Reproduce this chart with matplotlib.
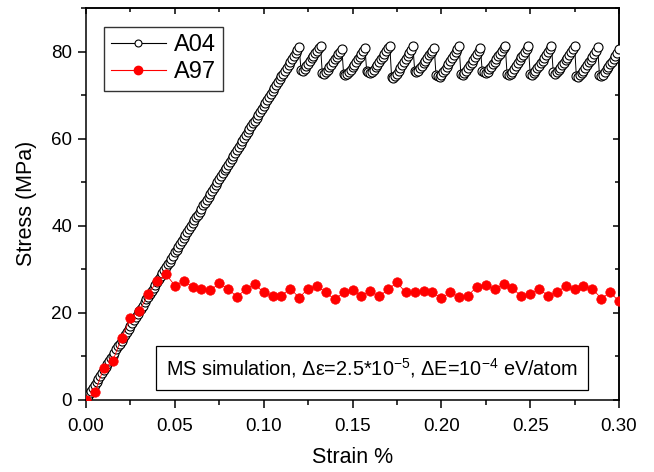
import numpy as np
import matplotlib
matplotlib.use("Agg")
import matplotlib.pyplot as plt
from matplotlib.ticker import MultipleLocator, FormatStrFormatter
from matplotlib.lines import Line2D

plt.rcParams['font.family'] = ['Liberation Sans', 'DejaVu Sans']
plt.rcParams['mathtext.fontset'] = 'custom'
plt.rcParams['mathtext.rm'] = 'Liberation Sans'
plt.rcParams['mathtext.it'] = 'Liberation Sans:italic'
plt.rcParams['axes.unicode_minus'] = False

# ---------------- data ----------------
# A04: strain step of the simulation output (0.001 %), stress values
a04_step = 0.001
a04_elastic = [
    0.0, 0.7, 1.4, 2.0, 2.7, 3.4, 4.1, 4.7, 5.4, 6.1, 6.8, 7.4, 8.1, 8.8, 9.5, 10.1,
    10.8, 11.5, 12.2, 12.8, 13.5, 14.2, 14.9, 15.5, 16.2, 16.9, 17.6, 18.2, 18.9, 19.6,
    20.3, 20.9, 21.6, 22.3, 23.0, 23.6, 24.3, 25.0, 25.7, 26.3, 27.0, 27.7, 28.4, 29.0,
    29.7, 30.4, 31.1, 31.7, 32.4, 33.1, 33.8, 34.4, 35.1, 35.8, 36.5, 37.1, 37.8, 38.5,
    39.2, 39.8, 40.5, 41.2, 41.9, 42.5, 43.2, 43.9, 44.6, 45.2, 45.9, 46.6, 47.3, 47.9,
    48.6, 49.3, 50.0, 50.6, 51.3, 52.0, 52.7, 53.3, 54.0, 54.7, 55.4, 56.0, 56.7, 57.4,
    58.1, 58.7, 59.4, 60.1, 60.8, 61.4, 62.1, 62.8, 63.5, 64.1, 64.8, 65.5, 66.2, 66.8,
    67.5, 68.2, 68.9, 69.5, 70.2, 70.9, 71.6, 72.2, 72.9, 73.6, 74.3, 74.9, 75.6, 76.3,
    77.0, 77.6, 78.3, 79.0, 79.7, 80.3, 81.0,
]
a04_teeth = [
    [75.8, 75.6, 76.0, 76.6, 77.2, 77.8, 78.4, 79.0, 79.6, 80.2, 80.7, 81.2],
    [75.0, 74.8, 75.2, 75.8, 76.4, 77.0, 77.6, 78.2, 78.8, 79.4, 80.0, 80.6],
    [74.9, 74.6, 74.8, 75.2, 75.8, 76.4, 77.0, 77.6, 78.2, 78.8, 79.5, 80.1, 80.8],
    [75.5, 75.2, 75.0, 75.3, 75.8, 76.4, 77.0, 77.6, 78.2, 78.8, 79.4, 80.1, 80.7, 81.3],
    [74.2, 74.0, 74.4, 74.9, 75.5, 76.1, 76.8, 77.5, 78.2, 78.9, 79.6, 80.4, 81.3],
    [75.6, 75.3, 75.6, 76.1, 76.7, 77.3, 77.9, 78.5, 79.1, 79.6, 80.2, 80.8],
    [74.6, 74.3, 74.2, 74.6, 75.2, 75.8, 76.4, 77.1, 77.8, 78.5, 79.2, 79.9, 80.6, 81.2],
    [74.8, 74.6, 75.0, 75.6, 76.2, 76.8, 77.4, 78.0, 78.7, 79.4, 80.1, 80.8],
    [75.6, 75.3, 75.1, 75.4, 75.9, 76.5, 77.1, 77.7, 78.3, 78.9, 79.5, 80.1, 80.7, 81.2],
    [74.8, 74.6, 74.9, 75.4, 76.0, 76.6, 77.3, 78.0, 78.7, 79.3, 79.9, 80.6, 81.2],
    [74.9, 74.7, 75.0, 75.5, 76.1, 76.7, 77.3, 77.9, 78.6, 79.3, 79.9, 80.6, 81.2],
    [75.2, 74.9, 75.2, 75.7, 76.2, 76.8, 77.4, 78.0, 78.6, 79.2, 79.9, 80.6, 81.2],
    [74.3, 74.1, 74.5, 75.0, 75.6, 76.2, 76.9, 77.5, 78.1, 78.7, 79.4, 80.2, 81.0],
    [74.6, 74.3, 74.7, 75.3, 75.9, 76.5, 77.1, 77.7, 78.3, 78.9, 79.7, 80.5],
]

# A97: one point every 0.005 %
a97_step = 0.005
a97_stress = [
    0.0, 1.7, 7.2, 8.8, 14.1, 18.7, 20.3, 24.2, 27.2, 28.8,
    26.2, 27.2, 25.9, 25.3, 25.1, 26.7, 25.4, 23.6, 25.4, 26.5,
    24.6, 23.7, 23.9, 25.5, 23.4, 25.5, 26.1, 24.6, 23.0, 24.6,
    25.1, 23.9, 24.9, 23.7, 25.3, 26.9, 24.6, 24.7, 24.9, 24.6,
    23.3, 24.6, 23.6, 23.9, 25.9, 26.4, 25.3, 26.5, 25.6, 23.7,
    24.2, 25.4, 23.9, 24.6, 26.1, 25.3, 26.1, 25.5, 23.2, 24.6,
    22.6,
]

series_labels = ["A04", "A97"]
x_label = "Strain %"
y_label = "Stress (MPa)"
note = r"MS simulation, Δε=2.5*10$^{-5}$, ΔE=10$^{-4}$ eV/atom"

a04_stress = list(a04_elastic)
for tooth in a04_teeth:
    a04_stress.extend(tooth)
a04_strain = np.arange(len(a04_stress)) * a04_step
a97_strain = np.arange(len(a97_stress)) * a97_step

# ---------------- plot ----------------
fig = plt.figure(figsize=(6.54, 4.72), dpi=100)
ax = fig.add_axes([86 / 654, 1 - 399.5 / 472, (619 - 86) / 654, (399.5 - 8) / 472])

ax.plot(a04_strain, a04_stress, color='black', lw=0.7, marker='o', ms=6.5,
        mfc='white', mec='black', mew=0.8, zorder=3, clip_on=True)
ax.plot(a97_strain, a97_stress, color='red', lw=0.6, marker='o', ms=6.8,
        mfc='red', mec='red', mew=0.5, zorder=4, clip_on=True)

ax.set_xlim(0, 0.30)
ax.set_ylim(0, 90)
ax.xaxis.set_major_locator(MultipleLocator(0.05))
ax.xaxis.set_minor_locator(MultipleLocator(0.025))
ax.yaxis.set_major_locator(MultipleLocator(20))
ax.yaxis.set_minor_locator(MultipleLocator(10))
ax.xaxis.set_major_formatter(FormatStrFormatter('%.2f'))

for s in ax.spines.values():
    s.set_linewidth(1.1)
ax.tick_params(which='major', direction='out', length=6, width=1.1, labelsize=13.5)
ax.tick_params(axis='x', which='major', pad=7)
ax.tick_params(axis='y', which='major', pad=4)
ax.tick_params(which='minor', direction='out', length=3.5, width=1.1)

secx = ax.secondary_xaxis('top')
secx.xaxis.set_major_locator(MultipleLocator(0.05))
secx.xaxis.set_minor_locator(MultipleLocator(0.025))
secx.tick_params(which='major', direction='in', length=4.5, width=1.1, labeltop=False)
secx.tick_params(which='minor', direction='in', length=3, width=1.1)
secx.spines['top'].set_linewidth(1.1)
secy = ax.secondary_yaxis('right')
secy.yaxis.set_major_locator(MultipleLocator(20))
secy.yaxis.set_minor_locator(MultipleLocator(10))
secy.tick_params(which='major', direction='in', length=4.5, width=1.1, labelright=False)
secy.tick_params(which='minor', direction='in', length=3, width=1.1)
secy.spines['right'].set_linewidth(1.1)

ax.set_xlabel(x_label, fontsize=15.5, labelpad=9)
ax.set_ylabel(y_label, fontsize=15.5, labelpad=10)

handles = [
    Line2D([], [], color='black', lw=0.8, marker='o', ms=5, mfc='white', mec='black', mew=0.8),
    Line2D([], [], color='red', lw=0.8, marker='o', ms=6, mfc='red', mec='red'),
]
leg = ax.legend(handles, series_labels, loc='upper left', bbox_to_anchor=(0.034, 0.951),
                borderaxespad=0, fontsize=17, frameon=True, fancybox=False,
                edgecolor='black', handlelength=2.3, handletextpad=0.35,
                labelspacing=0.22, borderpad=0.3)
leg.get_frame().set_linewidth(1.0)

ax.text(0.536, 0.080, note, transform=ax.transAxes, fontsize=14.3, ha='center', va='center',
        bbox=dict(boxstyle='square,pad=0.5', fc='white', ec='black', lw=0.9), zorder=5)

fig.savefig('out.png', dpi=100)
